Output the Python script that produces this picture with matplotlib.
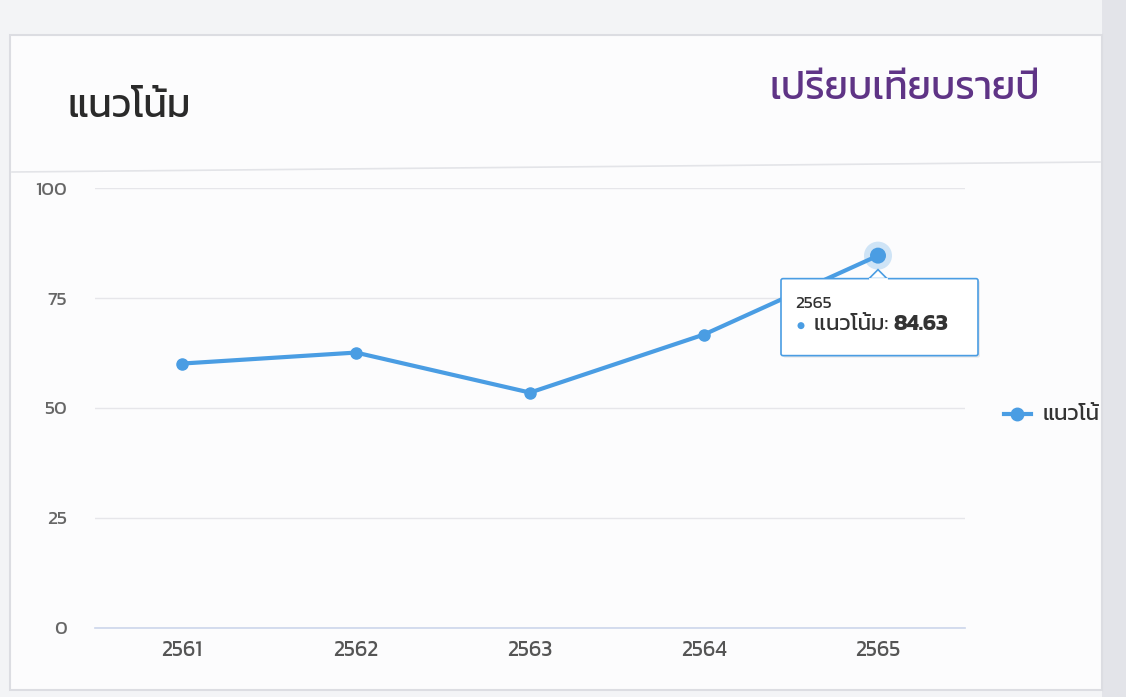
import matplotlib
matplotlib.use("Agg")
import matplotlib.pyplot as plt
from matplotlib import font_manager as fm
from matplotlib.ft2font import FT2Font
from matplotlib.patches import Rectangle, FancyBboxPatch, Polygon, Circle
from matplotlib.lines import Line2D

# ---------------- data ----------------
years = ["2561", "2562", "2563", "2564", "2565"]
trend = [60.1, 62.6, 53.5, 66.7, 84.63]
y_ticks = [0, 25, 50, 75, 100]
series_name = "แนวโน้ม"
title_left = "แนวโน้ม"
title_right = "เปรียบเทียบรายปี"
tooltip_index = 4

# ---------------- fonts ----------------
def find_thai():
    prefs = ['Kanit', 'Prompt', 'Noto Sans Thai', 'Noto Sans Thai Looped', 'Sarabun',
             'Loma', 'Garuda', 'Kinnari', 'Norasi', 'Noto Serif Thai']
    names = {f.name for f in fm.fontManager.ttflist}
    for p in prefs:
        if p in names:
            return p
    for f in fm.fontManager.ttflist:
        try:
            if 0x0E19 in FT2Font(f.fname).get_charmap():
                return f.name
        except Exception:
            pass
    return None

thai = find_thai()
FAM = ([thai] if thai else []) + ['DejaVu Sans']
plt.rcParams['font.family'] = FAM

W, H = 1126, 697
fig = plt.figure(figsize=(W / 100, H / 100), dpi=100, facecolor='#f3f4f6')

def fx(x):
    return x / W

def fy(y):
    return 1 - y / H

# background pieces
fig.patches.append(Rectangle((fx(1102), 0), 1 - fx(1102), 1, transform=fig.transFigure,
                             facecolor='#e3e4e9', edgecolor='none', zorder=-2))
card = Rectangle((fx(10), fy(690)), fx(1102) - fx(10), fy(35) - fy(690), transform=fig.transFigure,
                 facecolor='#fcfcfd', edgecolor='#dcdde2', linewidth=1.5, zorder=-2)
fig.patches.append(card)
fig.add_artist(Line2D([fx(12), fx(1100)], [fy(172), fy(162)], transform=fig.transFigure,
                      color='#e3e4e8', linewidth=1.2, zorder=-1))

# titles
fig.text(fx(68), fy(108), title_left, fontsize=28, color='#2a2a2a', va='center', ha='left')
fig.text(fx(1040), fy(90), title_right, fontsize=28, color='#5f3486', va='center', ha='right')

# ---------------- axes ----------------
ax = fig.add_axes([fx(95), fy(628), fx(965) - fx(95), fy(188) - fy(628)], zorder=1)
ax.set_facecolor('none')
x = list(range(len(years)))
ax.plot(x, trend, color='#4a9de3', linewidth=3, marker='o', markersize=8,
        markeredgecolor='#4a9de3', clip_on=False, zorder=4)
ax.set_xlim(-0.5, len(years) - 0.5)
ax.set_ylim(0, 100)
ax.set_yticks(y_ticks)
ax.set_yticklabels([str(v) for v in y_ticks])
ax.set_xticks(x)
ax.set_xticklabels(years)
ax.tick_params(axis='y', length=0, pad=20, labelsize=14, labelcolor='#666666')
ax.tick_params(axis='x', length=0, pad=9, labelsize=15.5, labelcolor='#555555')
ax.grid(axis='y', color='#e6e6ea', linewidth=1)
ax.set_axisbelow(True)
for s in ['top', 'right', 'left']:
    ax.spines[s].set_visible(False)
ax.spines['bottom'].set_color('#ccd6eb')
ax.spines['bottom'].set_linewidth(1.2)

# halo around hovered point
fig.canvas.draw()
px, py = ax.transData.transform((x[tooltip_index], trend[tooltip_index]))
halo = Circle((px, py), 14, transform=None, facecolor='#4a9de3', alpha=0.25,
              edgecolor='none', zorder=3)
fig.add_artist(halo)
fig.add_artist(Circle((px, py), 8, transform=None, facecolor='#4a9de3', edgecolor='none', zorder=5))

# tooltip (pixel offsets from point, display coords bottom-up)
bx0, bx1 = px - 97, px + 100
by1, by0 = py - 23, py - 100
shadow = FancyBboxPatch((bx0 + 2, by0 - 2), bx1 - bx0, by1 - by0, boxstyle='round,pad=0,rounding_size=2',
                        transform=None, facecolor='#000000', alpha=0.08, edgecolor='none', zorder=6)
fig.add_artist(shadow)
box = FancyBboxPatch((bx0, by0), bx1 - bx0, by1 - by0, boxstyle='round,pad=0,rounding_size=2',
                     transform=None, facecolor='#ffffff', edgecolor='#4a9de3', linewidth=1.2, zorder=7)
fig.add_artist(box)
tri = Polygon([(px - 9, by1), (px, by1 + 9), (px + 9, by1)], closed=True, transform=None,
              facecolor='#ffffff', edgecolor='#4a9de3', linewidth=1.2, zorder=7)
fig.add_artist(tri)
fig.add_artist(Line2D([px - 8, px + 8], [by1, by1], transform=None, color='#ffffff', linewidth=2, zorder=8))
fig.text((bx0 + 14) / W, (by1 - 25) / H, years[tooltip_index], fontsize=12.5, color='#333333',
         va='center', ha='left', zorder=9)
fig.add_artist(Circle((bx0 + 20, by1 - 47), 3.5, transform=None, facecolor='#4a9de3',
                      edgecolor='none', zorder=9))
t1 = fig.text((bx0 + 33) / W, (by1 - 46) / H, series_name + ": ", fontsize=16, color='#333333',
              va='center', ha='left', zorder=9)
fig.canvas.draw()
bb = t1.get_window_extent()
fig.text(bb.x1 / W, (by1 - 46) / H, f"{trend[tooltip_index]:.2f}", fontsize=16, color='#333333',
         fontweight='bold', va='center', ha='left', zorder=9)

# legend at right, clipped by card edge
lax = fig.add_axes([fx(990), fy(440), fx(1100) - fx(990), fy(390) - fy(440)], zorder=1)
lax.set_xlim(990, 1100)
lax.set_ylim(440, 390)
lax.axis('off')
lax.plot([1004, 1031], [414, 414], color='#4a9de3', linewidth=3, clip_on=True)
lax.plot([1017], [414], marker='o', markersize=9, color='#4a9de3', clip_on=True)
lax.text(1043, 414, series_name, fontsize=16, color='#333333', va='center', ha='left', clip_on=True)

fig.savefig('out.png', dpi=100, facecolor=fig.get_facecolor())
